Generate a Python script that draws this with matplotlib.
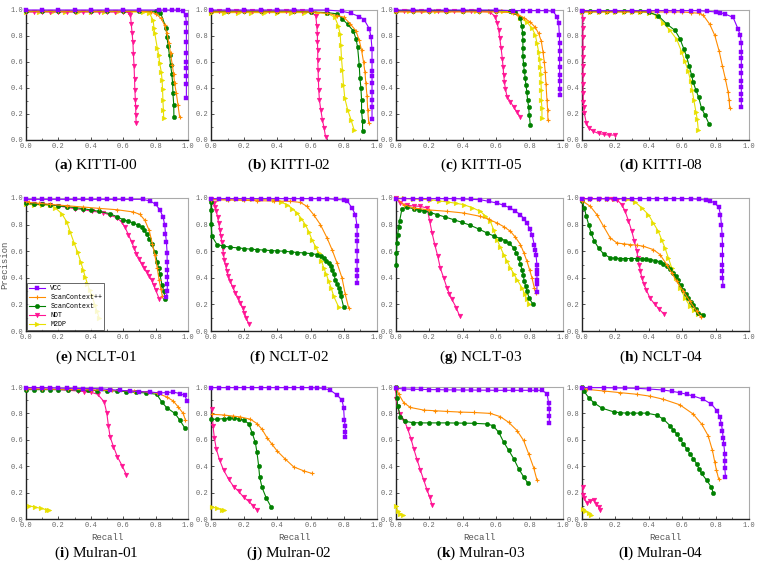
import matplotlib
matplotlib.use("Agg")
from matplotlib import pyplot as plt
from matplotlib.ticker import MultipleLocator

plt.rcParams["mathtext.fontset"] = "custom"
plt.rcParams["mathtext.rm"] = "Liberation Serif"
plt.rcParams["mathtext.bf"] = "Liberation Serif:bold"

methods = ["VCC", "ScanContext++", "ScanContext", "NDT", "M2DP"]
colors = ["#8B00FF", "#FF8C00", "#008000", "#FF1493", "#E8E000"]
markers = ["s", "+", "o", "v", ">"]
msizes = [3.2, 2.6, 3.2, 3.4, 3.4]

# (recall, precision) points

# KITTI-00
k00_vcc = [(0.0, 1.0), (0.1, 1.0), (0.2, 1.0), (0.3, 1.0), (0.4, 1.0), (0.5, 1.0), (0.6, 1.0), (0.7, 1.0),
           (0.82, 1.0), (0.86, 1.0), (0.9, 1.0), (0.94, 1.0), (0.97, 0.99), (0.985, 0.96), (0.99, 0.9),
           (0.99, 0.83), (0.99, 0.75), (0.99, 0.67), (0.99, 0.6), (0.99, 0.55), (0.99, 0.49), (0.99, 0.43), (0.99, 0.32)]
k00_scpp = [(0.0, 0.99), (0.1, 0.99), (0.2, 0.99), (0.3, 0.99), (0.4, 0.99), (0.5, 0.99), (0.6, 0.99), (0.7, 0.99),
            (0.77, 0.985), (0.803, 0.97), (0.834, 0.935), (0.855, 0.885), (0.87, 0.82), (0.882, 0.745), (0.892, 0.667),
            (0.903, 0.577), (0.911, 0.51), (0.917, 0.436), (0.928, 0.36), (0.938, 0.27), (0.948, 0.18)]
k00_sc = [(0.0, 0.99), (0.1, 0.99), (0.2, 0.99), (0.3, 0.99), (0.4, 0.99), (0.5, 0.99), (0.6, 0.99), (0.7, 0.99),
          (0.8, 0.99), (0.83, 0.98), (0.865, 0.86), (0.87, 0.79), (0.878, 0.72), (0.886, 0.65), (0.892, 0.58),
          (0.9, 0.51), (0.905, 0.44), (0.907, 0.36), (0.912, 0.27), (0.913, 0.18)]
k00_ndt = [(0.0, 0.985), (0.05, 0.985), (0.1, 0.985), (0.15, 0.985), (0.2, 0.985), (0.25, 0.985), (0.3, 0.985),
           (0.35, 0.985), (0.4, 0.985), (0.45, 0.985), (0.5, 0.985), (0.55, 0.985), (0.6, 0.985), (0.635, 0.98),
           (0.645, 0.96), (0.65, 0.89), (0.655, 0.82), (0.66, 0.75), (0.663, 0.66), (0.667, 0.57), (0.67, 0.47),
           (0.672, 0.385), (0.675, 0.31), (0.677, 0.25), (0.678, 0.19), (0.68, 0.13)]
k00_m2dp = [(0.0, 0.985), (0.08, 0.985), (0.16, 0.985), (0.24, 0.985), (0.32, 0.985), (0.4, 0.985), (0.48, 0.985),
            (0.56, 0.985), (0.64, 0.985), (0.72, 0.985), (0.76, 0.98), (0.785, 0.92), (0.79, 0.86), (0.795, 0.82),
            (0.81, 0.71), (0.82, 0.65), (0.825, 0.59), (0.835, 0.525), (0.84, 0.46), (0.843, 0.39), (0.845, 0.31),
            (0.848, 0.23), (0.85, 0.17)]

# KITTI-02
k02_vcc = [(0.0, 1.0), (0.1, 1.0), (0.2, 1.0), (0.3, 1.0), (0.4, 1.0), (0.5, 1.0), (0.6, 1.0), (0.7, 1.0),
           (0.79, 0.99), (0.843, 0.975), (0.893, 0.95), (0.923, 0.925), (0.954, 0.855), (0.964, 0.79), (0.97, 0.7),
           (0.97, 0.61), (0.97, 0.53), (0.97, 0.49), (0.97, 0.44), (0.97, 0.37), (0.97, 0.31), (0.97, 0.25), (0.97, 0.16)]
k02_scpp = [(0.0, 0.985), (0.1, 0.985), (0.2, 0.985), (0.3, 0.985), (0.4, 0.985), (0.5, 0.985), (0.6, 0.985),
            (0.7, 0.975), (0.762, 0.957), (0.8, 0.945), (0.839, 0.893), (0.873, 0.84), (0.893, 0.766), (0.907, 0.69),
            (0.919, 0.6), (0.927, 0.525), (0.933, 0.437), (0.94, 0.335), (0.944, 0.234), (0.95, 0.13)]
k02_sc = [(0.0, 0.99), (0.1, 0.99), (0.2, 0.99), (0.3, 0.99), (0.4, 0.99), (0.5, 0.99), (0.6, 0.985), (0.7, 0.98),
          (0.762, 0.97), (0.792, 0.93), (0.823, 0.89), (0.857, 0.84), (0.873, 0.78), (0.883, 0.716), (0.893, 0.576),
          (0.897, 0.48), (0.903, 0.4), (0.907, 0.31), (0.907, 0.22), (0.913, 0.145), (0.913, 0.07)]
k02_ndt = [(0.0, 0.99), (0.05, 0.99), (0.1, 0.99), (0.15, 0.99), (0.2, 0.99), (0.25, 0.99), (0.3, 0.99), (0.35, 0.99),
           (0.4, 0.99), (0.45, 0.99), (0.5, 0.99), (0.55, 0.99), (0.6, 0.985), (0.631, 0.957), (0.637, 0.88),
           (0.641, 0.817), (0.641, 0.754), (0.643, 0.69), (0.643, 0.614), (0.645, 0.538), (0.647, 0.462),
           (0.649, 0.386), (0.653, 0.31), (0.661, 0.234), (0.671, 0.157), (0.681, 0.094), (0.69, 0.025)]
k02_m2dp = [(0.0, 0.98), (0.08, 0.98), (0.16, 0.98), (0.24, 0.98), (0.32, 0.98), (0.4, 0.98), (0.48, 0.98),
            (0.56, 0.98), (0.64, 0.98), (0.7, 0.975), (0.746, 0.944), (0.766, 0.88), (0.778, 0.817), (0.782, 0.728),
            (0.786, 0.627), (0.792, 0.538), (0.798, 0.424), (0.806, 0.322), (0.823, 0.234), (0.843, 0.157),
            (0.863, 0.074)]

# KITTI-05
k05_vcc = [(0.0, 1.0), (0.1, 1.0), (0.2, 1.0), (0.3, 1.0), (0.4, 1.0), (0.5, 1.0), (0.6, 1.0), (0.7, 0.995),
           (0.76, 0.995), (0.8, 0.995), (0.85, 0.995), (0.9, 0.995), (0.94, 0.99), (0.964, 0.95), (0.974, 0.9),
           (0.978, 0.81), (0.98, 0.745), (0.98, 0.685), (0.98, 0.62), (0.98, 0.56), (0.98, 0.5), (0.98, 0.45),
           (0.98, 0.395), (0.984, 0.345)]
k05_scpp = [(0.0, 0.985), (0.1, 0.985), (0.2, 0.985), (0.3, 0.985), (0.4, 0.985), (0.5, 0.985), (0.6, 0.985),
            (0.7, 0.98), (0.73, 0.965), (0.764, 0.942), (0.804, 0.907), (0.834, 0.866), (0.854, 0.82), (0.87, 0.76),
            (0.88, 0.68), (0.888, 0.597), (0.894, 0.52), (0.898, 0.433), (0.904, 0.307), (0.908, 0.232),
            (0.91, 0.156)]
k05_sc = [(0.0, 0.995), (0.1, 0.995), (0.2, 0.995), (0.3, 0.995), (0.4, 0.995), (0.5, 0.995), (0.6, 0.995),
          (0.68, 0.995), (0.715, 0.987), (0.745, 0.937), (0.754, 0.874), (0.758, 0.824), (0.76, 0.773), (0.76, 0.71),
          (0.76, 0.647), (0.764, 0.584), (0.768, 0.534), (0.774, 0.479), (0.778, 0.42), (0.784, 0.37),
          (0.788, 0.307), (0.794, 0.257), (0.798, 0.194), (0.804, 0.118)]
k05_ndt = [(0.0, 0.99), (0.05, 0.99), (0.1, 0.99), (0.15, 0.99), (0.2, 0.99), (0.25, 0.99), (0.3, 0.99), (0.35, 0.99),
           (0.4, 0.99), (0.45, 0.99), (0.5, 0.99), (0.56, 0.985), (0.595, 0.95), (0.605, 0.9), (0.615, 0.85),
           (0.621, 0.786), (0.629, 0.71), (0.637, 0.622), (0.641, 0.56), (0.645, 0.5), (0.649, 0.446),
           (0.655, 0.395), (0.665, 0.333), (0.685, 0.295), (0.705, 0.252), (0.725, 0.212), (0.745, 0.176)]
k05_m2dp = [(0.0, 0.99), (0.08, 0.99), (0.16, 0.99), (0.24, 0.99), (0.32, 0.99), (0.4, 0.99), (0.48, 0.99),
            (0.56, 0.99), (0.64, 0.99), (0.7, 0.985), (0.745, 0.937), (0.784, 0.907), (0.814, 0.86), (0.834, 0.81),
            (0.844, 0.745), (0.854, 0.68), (0.86, 0.62), (0.864, 0.56), (0.868, 0.51), (0.868, 0.446), (0.87, 0.383),
            (0.87, 0.307), (0.874, 0.244), (0.874, 0.169)]

# KITTI-08
k08_vcc = [(0.0, 0.995), (0.1, 0.995), (0.2, 0.995), (0.3, 0.995), (0.4, 0.995), (0.45, 0.995), (0.5, 0.995),
           (0.55, 0.995), (0.6, 0.995), (0.65, 0.995), (0.7, 0.995), (0.75, 0.99), (0.8, 0.985), (0.825, 0.98),
           (0.855, 0.97), (0.905, 0.943), (0.934, 0.855), (0.948, 0.805), (0.954, 0.743), (0.954, 0.68),
           (0.954, 0.63), (0.954, 0.568), (0.954, 0.518), (0.954, 0.455), (0.954, 0.405), (0.954, 0.355),
           (0.954, 0.305), (0.954, 0.25)]
k08_scpp = [(0.0, 0.985), (0.05, 0.985), (0.1, 0.985), (0.15, 0.985), (0.2, 0.985), (0.25, 0.985), (0.3, 0.985),
            (0.35, 0.985), (0.4, 0.985), (0.45, 0.985), (0.5, 0.985), (0.55, 0.985), (0.6, 0.985), (0.65, 0.98),
            (0.7, 0.975), (0.726, 0.96), (0.765, 0.89), (0.795, 0.805), (0.821, 0.685), (0.841, 0.568),
            (0.859, 0.468), (0.875, 0.368), (0.881, 0.305), (0.885, 0.243)]
k08_sc = [(0.0, 0.99), (0.05, 0.99), (0.1, 0.99), (0.15, 0.99), (0.2, 0.99), (0.25, 0.99), (0.3, 0.99), (0.35, 0.99),
          (0.4, 0.985), (0.457, 0.955), (0.507, 0.893), (0.557, 0.843), (0.586, 0.78), (0.61, 0.7), (0.626, 0.643),
          (0.642, 0.568), (0.656, 0.5), (0.666, 0.443), (0.682, 0.385), (0.698, 0.33), (0.716, 0.243),
          (0.736, 0.193), (0.76, 0.125)]
k08_ndt = [(0.002, 0.99), (0.004, 0.93), (0.005, 0.86), (0.005, 0.79), (0.006, 0.71), (0.006, 0.64), (0.006, 0.57),
           (0.006, 0.5), (0.006, 0.43), (0.007, 0.36), (0.008, 0.29), (0.01, 0.25), (0.014, 0.205), (0.026, 0.13),
           (0.04, 0.093), (0.066, 0.068), (0.1, 0.05), (0.13, 0.043), (0.16, 0.038), (0.195, 0.038)]
k08_m2dp = [(0.0, 0.985), (0.05, 0.985), (0.1, 0.985), (0.15, 0.985), (0.2, 0.985), (0.25, 0.985), (0.3, 0.985),
            (0.35, 0.985), (0.4, 0.98), (0.451, 0.955), (0.487, 0.9), (0.527, 0.843), (0.567, 0.775), (0.596, 0.68),
            (0.616, 0.605), (0.636, 0.53), (0.65, 0.455), (0.66, 0.385), (0.67, 0.305), (0.682, 0.218),
            (0.69, 0.16), (0.696, 0.08)]

# NCLT-01
n01_vcc = [(0.0, 0.99), (0.05, 0.99), (0.1, 0.99), (0.15, 0.99), (0.2, 0.99), (0.25, 0.99), (0.3, 0.99), (0.35, 0.99),
           (0.4, 0.99), (0.45, 0.99), (0.5, 0.99), (0.55, 0.99), (0.6, 0.99), (0.65, 0.99), (0.72, 0.99),
           (0.768, 0.977), (0.8, 0.952), (0.826, 0.912), (0.846, 0.857), (0.857, 0.794), (0.861, 0.73),
           (0.867, 0.667), (0.871, 0.586), (0.871, 0.52), (0.873, 0.46), (0.873, 0.406), (0.873, 0.35),
           (0.871, 0.3), (0.867, 0.256)]
n01_scpp = [(0.0, 0.975), (0.016, 0.967), (0.08, 0.96), (0.15, 0.952), (0.25, 0.942), (0.354, 0.932), (0.45, 0.922),
            (0.56, 0.912), (0.662, 0.895), (0.703, 0.877), (0.734, 0.832), (0.76, 0.757), (0.78, 0.657),
            (0.795, 0.569), (0.81, 0.476), (0.822, 0.38), (0.832, 0.318), (0.842, 0.26)]
n01_sc = [(0.0, 0.96), (0.05, 0.955), (0.1, 0.952), (0.15, 0.95), (0.2, 0.94), (0.25, 0.935), (0.3, 0.928),
          (0.354, 0.92), (0.4, 0.91), (0.45, 0.9), (0.518, 0.882), (0.56, 0.86), (0.6, 0.837), (0.632, 0.825),
          (0.662, 0.812), (0.69, 0.797), (0.713, 0.782), (0.73, 0.757), (0.744, 0.732), (0.76, 0.695),
          (0.775, 0.657), (0.795, 0.594), (0.81, 0.519), (0.818, 0.475), (0.826, 0.431), (0.84, 0.343),
          (0.852, 0.298), (0.857, 0.243)]
n01_ndt = [(0.0, 0.96), (0.05, 0.957), (0.1, 0.955), (0.15, 0.95), (0.2, 0.94), (0.25, 0.93), (0.3, 0.92),
           (0.354, 0.912), (0.41, 0.9), (0.477, 0.89), (0.52, 0.87), (0.56, 0.852), (0.59, 0.82), (0.61, 0.782),
           (0.632, 0.725), (0.652, 0.67), (0.667, 0.625), (0.682, 0.581), (0.698, 0.543), (0.713, 0.506),
           (0.728, 0.475), (0.744, 0.444), (0.76, 0.412), (0.775, 0.381), (0.788, 0.345), (0.801, 0.306),
           (0.822, 0.243)]
n01_m2dp = [(0.0, 0.952), (0.05, 0.95), (0.1, 0.948), (0.15, 0.945), (0.18, 0.927), (0.221, 0.882), (0.252, 0.82),
            (0.273, 0.744), (0.297, 0.662), (0.318, 0.594), (0.338, 0.519), (0.354, 0.456), (0.366, 0.405),
            (0.379, 0.356), (0.392, 0.31), (0.406, 0.268), (0.426, 0.193), (0.438, 0.15), (0.451, 0.1)]

# NCLT-02
n02_vcc = [(0.0, 0.995), (0.05, 0.995), (0.1, 0.995), (0.15, 0.995), (0.2, 0.995), (0.25, 0.995), (0.3, 0.995),
           (0.35, 0.995), (0.4, 0.995), (0.45, 0.995), (0.5, 0.995), (0.55, 0.995), (0.6, 0.995), (0.65, 0.995),
           (0.7, 0.995), (0.75, 0.99), (0.8, 0.985), (0.82, 0.98), (0.849, 0.925), (0.87, 0.875), (0.88, 0.787),
           (0.88, 0.725), (0.88, 0.675), (0.88, 0.6), (0.88, 0.525), (0.88, 0.462), (0.88, 0.412), (0.88, 0.362)]
n02_scpp = [(0.0, 0.987), (0.1, 0.985), (0.2, 0.982), (0.277, 0.98), (0.38, 0.977), (0.478, 0.975), (0.538, 0.967),
            (0.578, 0.937), (0.618, 0.875), (0.659, 0.8), (0.699, 0.7), (0.729, 0.612), (0.759, 0.512),
            (0.789, 0.4), (0.809, 0.275), (0.829, 0.175)]
n02_sc = [(0.0, 0.97), (0.0, 0.912), (0.0, 0.805), (0.006, 0.712), (0.036, 0.65), (0.07, 0.64), (0.116, 0.63),
          (0.16, 0.625), (0.2, 0.62), (0.24, 0.615), (0.277, 0.612), (0.32, 0.608), (0.36, 0.605), (0.4, 0.602),
          (0.438, 0.6), (0.48, 0.595), (0.52, 0.59), (0.558, 0.587), (0.6, 0.582), (0.639, 0.575), (0.66, 0.563),
          (0.679, 0.55), (0.695, 0.53), (0.709, 0.512), (0.72, 0.487), (0.729, 0.462), (0.74, 0.425),
          (0.749, 0.387), (0.76, 0.355), (0.769, 0.325), (0.776, 0.295), (0.783, 0.262), (0.799, 0.18)]
n02_ndt = [(0.0, 0.99), (0.016, 0.962), (0.025, 0.93), (0.032, 0.9), (0.04, 0.855), (0.046, 0.812), (0.053, 0.762),
           (0.06, 0.712), (0.065, 0.668), (0.07, 0.625), (0.075, 0.58), (0.08, 0.537), (0.088, 0.493),
           (0.096, 0.45), (0.105, 0.41), (0.116, 0.375), (0.13, 0.33), (0.147, 0.287), (0.162, 0.25),
           (0.177, 0.212), (0.19, 0.175), (0.201, 0.137), (0.213, 0.095), (0.227, 0.055)]
n02_m2dp = [(0.0, 0.99), (0.05, 0.99), (0.1, 0.99), (0.15, 0.99), (0.2, 0.99), (0.25, 0.99), (0.3, 0.99),
            (0.378, 0.987), (0.42, 0.97), (0.458, 0.95), (0.49, 0.92), (0.518, 0.887), (0.545, 0.845),
            (0.568, 0.8), (0.59, 0.745), (0.608, 0.687), (0.63, 0.635), (0.649, 0.587), (0.665, 0.53),
            (0.679, 0.475), (0.695, 0.425), (0.709, 0.375), (0.725, 0.32), (0.739, 0.262), (0.769, 0.18)]

# NCLT-03
n03_vcc = [(0.0, 0.995), (0.05, 0.995), (0.1, 0.995), (0.15, 0.995), (0.2, 0.995), (0.25, 0.995), (0.3, 0.995),
           (0.35, 0.995), (0.4, 0.993), (0.45, 0.99), (0.505, 0.987), (0.555, 0.975), (0.605, 0.962),
           (0.645, 0.945), (0.685, 0.925), (0.715, 0.9), (0.745, 0.875), (0.765, 0.845), (0.784, 0.812),
           (0.8, 0.77), (0.814, 0.725), (0.828, 0.65), (0.834, 0.612), (0.838, 0.575), (0.844, 0.5),
           (0.844, 0.462), (0.844, 0.425), (0.844, 0.387), (0.844, 0.35), (0.844, 0.295)]
n03_scpp = [(0.0, 1.0), (0.046, 0.95), (0.106, 0.925), (0.2, 0.91), (0.305, 0.9), (0.405, 0.887), (0.505, 0.862),
            (0.555, 0.84), (0.605, 0.812), (0.645, 0.785), (0.685, 0.75), (0.715, 0.705), (0.745, 0.65),
            (0.765, 0.59), (0.784, 0.525), (0.8, 0.46), (0.814, 0.4), (0.828, 0.325), (0.838, 0.282)]
n03_sc = [(0.0, 0.5), (0.002, 0.587), (0.006, 0.662), (0.01, 0.725), (0.016, 0.78), (0.022, 0.83), (0.036, 0.92),
          (0.066, 0.93), (0.106, 0.92), (0.136, 0.912), (0.166, 0.905), (0.206, 0.89), (0.246, 0.875),
          (0.295, 0.857), (0.345, 0.837), (0.395, 0.817), (0.445, 0.795), (0.495, 0.767), (0.545, 0.737),
          (0.585, 0.715), (0.625, 0.695), (0.655, 0.68), (0.675, 0.662), (0.705, 0.625), (0.72, 0.59),
          (0.734, 0.55), (0.745, 0.505), (0.754, 0.462), (0.762, 0.42), (0.768, 0.375), (0.776, 0.337),
          (0.784, 0.3), (0.798, 0.245), (0.818, 0.205)]
n03_ndt = [(0.0, 1.0), (0.026, 0.962), (0.066, 0.945), (0.106, 0.94), (0.146, 0.937), (0.186, 0.925),
           (0.202, 0.825), (0.216, 0.737), (0.232, 0.65), (0.25, 0.562), (0.265, 0.475), (0.285, 0.4),
           (0.305, 0.325), (0.32, 0.28), (0.335, 0.237), (0.361, 0.175), (0.381, 0.112)]
n03_m2dp = [(0.0, 1.0), (0.05, 0.997), (0.1, 0.993), (0.15, 0.99), (0.206, 0.987), (0.26, 0.978), (0.31, 0.97),
            (0.36, 0.96), (0.405, 0.95), (0.455, 0.928), (0.505, 0.9), (0.535, 0.865), (0.565, 0.825),
            (0.585, 0.76), (0.605, 0.687), (0.625, 0.63), (0.645, 0.575), (0.665, 0.525), (0.685, 0.475),
            (0.705, 0.43), (0.725, 0.387), (0.754, 0.325), (0.77, 0.28), (0.784, 0.237), (0.798, 0.2)]

# NCLT-04
n04_vcc = [(0.0, 0.995), (0.05, 0.995), (0.1, 0.995), (0.15, 0.995), (0.2, 0.995), (0.25, 0.995), (0.3, 0.995),
           (0.35, 0.995), (0.4, 0.995), (0.45, 0.995), (0.5, 0.995), (0.55, 0.995), (0.6, 0.995), (0.65, 0.995),
           (0.7, 0.99), (0.74, 0.985), (0.765, 0.98), (0.795, 0.962), (0.819, 0.93), (0.829, 0.875), (0.835, 0.8),
           (0.839, 0.725), (0.841, 0.65), (0.841, 0.575), (0.841, 0.5), (0.841, 0.45), (0.841, 0.4),
           (0.845, 0.337)]
n04_scpp = [(0.0, 0.98), (0.05, 0.937), (0.089, 0.875), (0.129, 0.787), (0.169, 0.7), (0.209, 0.662), (0.25, 0.655),
            (0.288, 0.65), (0.33, 0.645), (0.368, 0.637), (0.427, 0.612), (0.467, 0.575), (0.507, 0.5),
            (0.537, 0.437), (0.567, 0.375), (0.606, 0.3), (0.646, 0.225), (0.686, 0.15), (0.71, 0.105)]
n04_sc = [(0.0, 0.98), (0.014, 0.925), (0.026, 0.862), (0.04, 0.8), (0.054, 0.737), (0.074, 0.675), (0.099, 0.625),
          (0.129, 0.58), (0.169, 0.55), (0.199, 0.547), (0.229, 0.545), (0.26, 0.545), (0.295, 0.545),
          (0.328, 0.545), (0.36, 0.543), (0.385, 0.54), (0.408, 0.537), (0.44, 0.53), (0.467, 0.52),
          (0.487, 0.505), (0.507, 0.487), (0.527, 0.465), (0.547, 0.437), (0.562, 0.41), (0.577, 0.38),
          (0.59, 0.345), (0.606, 0.312), (0.62, 0.28), (0.636, 0.25), (0.65, 0.22), (0.666, 0.195),
          (0.68, 0.165), (0.696, 0.137), (0.722, 0.12)]
n04_ndt = [(0.0, 0.995), (0.05, 0.995), (0.1, 0.995), (0.15, 0.995), (0.18, 0.993), (0.209, 0.987), (0.239, 0.95),
           (0.258, 0.9), (0.278, 0.83), (0.298, 0.75), (0.314, 0.675), (0.328, 0.6), (0.335, 0.55), (0.342, 0.5),
           (0.35, 0.45), (0.358, 0.4), (0.37, 0.355), (0.384, 0.312), (0.408, 0.245), (0.437, 0.2),
           (0.463, 0.162), (0.493, 0.125)]
n04_m2dp = [(0.0, 0.995), (0.05, 0.995), (0.1, 0.995), (0.15, 0.995), (0.2, 0.995), (0.268, 0.99), (0.318, 0.97),
            (0.358, 0.925), (0.398, 0.875), (0.427, 0.812), (0.457, 0.75), (0.477, 0.687), (0.497, 0.625),
            (0.517, 0.55), (0.537, 0.475), (0.563, 0.4), (0.586, 0.325), (0.616, 0.25), (0.646, 0.187),
            (0.67, 0.155), (0.696, 0.13), (0.726, 0.12)]

# Mulran-01
m01_vcc = [(0.0, 0.995), (0.05, 0.995), (0.1, 0.995), (0.15, 0.993), (0.2, 0.992), (0.25, 0.99), (0.3, 0.99),
           (0.35, 0.988), (0.4, 0.988), (0.462, 0.987), (0.52, 0.98), (0.58, 0.975), (0.64, 0.97), (0.7, 0.965),
           (0.767, 0.962), (0.828, 0.955), (0.87, 0.958), (0.909, 0.962), (0.949, 0.95), (0.98, 0.937),
           (0.994, 0.894)]
m01_scpp = [(0.0, 0.985), (0.1, 0.984), (0.26, 0.982), (0.4, 0.978), (0.53, 0.974), (0.665, 0.97), (0.75, 0.962),
            (0.807, 0.955), (0.868, 0.925), (0.909, 0.894), (0.939, 0.85), (0.97, 0.8), (0.984, 0.75)]
m01_sc = [(0.0, 0.98), (0.05, 0.98), (0.1, 0.98), (0.15, 0.98), (0.2, 0.98), (0.26, 0.98), (0.32, 0.977),
          (0.38, 0.975), (0.44, 0.973), (0.5, 0.972), (0.564, 0.97), (0.62, 0.965), (0.68, 0.96), (0.74, 0.955),
          (0.807, 0.945), (0.838, 0.887), (0.868, 0.844), (0.919, 0.8), (0.949, 0.75), (0.98, 0.69)]
m01_ndt = [(0.0, 0.985), (0.05, 0.985), (0.1, 0.984), (0.15, 0.982), (0.2, 0.98), (0.26, 0.975), (0.32, 0.97),
           (0.36, 0.965), (0.402, 0.96), (0.442, 0.945), (0.483, 0.887), (0.499, 0.8), (0.509, 0.704),
           (0.519, 0.623), (0.54, 0.548), (0.564, 0.472), (0.594, 0.402), (0.62, 0.334)]
m01_m2dp = [(0.016, 0.1), (0.057, 0.09), (0.093, 0.08), (0.128, 0.07), (0.142, 0.068)]

# Mulran-02
m02_vcc = [(0.0, 0.995), (0.05, 0.995), (0.1, 0.995), (0.15, 0.995), (0.2, 0.995), (0.25, 0.995), (0.3, 0.995),
           (0.35, 0.995), (0.4, 0.995), (0.45, 0.995), (0.5, 0.995), (0.55, 0.995), (0.6, 0.995), (0.64, 0.993),
           (0.679, 0.99), (0.719, 0.975), (0.759, 0.94), (0.789, 0.9), (0.799, 0.844), (0.803, 0.748),
           (0.809, 0.705), (0.809, 0.662), (0.809, 0.625)]
m02_scpp = [(0.006, 0.793), (0.076, 0.788), (0.13, 0.78), (0.177, 0.773), (0.237, 0.756), (0.277, 0.723),
            (0.307, 0.68), (0.337, 0.617), (0.367, 0.567), (0.398, 0.516), (0.448, 0.453), (0.498, 0.395),
            (0.558, 0.365), (0.608, 0.345)]
m02_sc = [(0.0, 0.755), (0.036, 0.756), (0.076, 0.76), (0.106, 0.762), (0.137, 0.763), (0.17, 0.758),
          (0.197, 0.748), (0.227, 0.723), (0.247, 0.655), (0.267, 0.58), (0.277, 0.504), (0.287, 0.403),
          (0.293, 0.32), (0.307, 0.24), (0.333, 0.159), (0.363, 0.088)]
m02_ndt = [(0.006, 0.83), (0.012, 0.705), (0.02, 0.617), (0.032, 0.529), (0.052, 0.446), (0.076, 0.37),
           (0.106, 0.302), (0.137, 0.244), (0.167, 0.209), (0.197, 0.164), (0.227, 0.134), (0.253, 0.101),
           (0.277, 0.068)]
m02_m2dp = [(0.006, 0.093), (0.036, 0.08), (0.066, 0.07), (0.076, 0.068)]

# Mulran-03
m03_vcc = [(0.0, 0.99), (0.05, 0.985), (0.1, 0.983), (0.15, 0.982), (0.2, 0.98), (0.25, 0.98), (0.3, 0.978),
           (0.35, 0.978), (0.4, 0.977), (0.45, 0.977), (0.5, 0.976), (0.55, 0.976), (0.6, 0.975), (0.65, 0.975),
           (0.7, 0.975), (0.75, 0.975), (0.8, 0.975), (0.84, 0.975), (0.874, 0.975), (0.904, 0.95),
           (0.914, 0.882), (0.918, 0.832), (0.918, 0.782), (0.918, 0.728)]
m03_scpp = [(0.0, 1.0), (0.016, 0.945), (0.046, 0.882), (0.086, 0.845), (0.166, 0.825), (0.235, 0.82),
            (0.305, 0.815), (0.385, 0.81), (0.465, 0.807), (0.565, 0.8), (0.625, 0.775), (0.675, 0.732),
            (0.725, 0.67), (0.764, 0.595), (0.794, 0.495), (0.824, 0.39), (0.844, 0.295)]
m03_sc = [(0.0, 1.0), (0.006, 0.92), (0.01, 0.857), (0.026, 0.775), (0.056, 0.74), (0.1, 0.73), (0.146, 0.728),
          (0.2, 0.728), (0.25, 0.728), (0.305, 0.728), (0.36, 0.727), (0.41, 0.726), (0.465, 0.725),
          (0.545, 0.72), (0.581, 0.707), (0.615, 0.657), (0.645, 0.582), (0.675, 0.52), (0.705, 0.457),
          (0.734, 0.382), (0.764, 0.32), (0.79, 0.27)]
m03_ndt = [(0.0, 0.97), (0.002, 0.907), (0.01, 0.845), (0.026, 0.795), (0.05, 0.745), (0.07, 0.682), (0.09, 0.607),
           (0.106, 0.532), (0.126, 0.45), (0.146, 0.37), (0.166, 0.295), (0.186, 0.22), (0.202, 0.165),
           (0.216, 0.107)]
m03_m2dp = [(0.0, 0.1), (0.01, 0.057), (0.026, 0.04), (0.04, 0.032)]

# Mulran-04
m04_vcc = [(0.0, 0.995), (0.05, 0.995), (0.129, 0.995), (0.2, 0.993), (0.26, 0.992), (0.328, 0.99), (0.4, 0.985),
           (0.487, 0.977), (0.54, 0.967), (0.586, 0.957), (0.626, 0.945), (0.666, 0.932), (0.726, 0.907),
           (0.775, 0.87), (0.809, 0.82), (0.825, 0.77), (0.835, 0.72), (0.841, 0.665), (0.845, 0.617),
           (0.849, 0.57), (0.855, 0.49), (0.855, 0.44), (0.855, 0.39), (0.859, 0.32)]
m04_scpp = [(0.0, 1.0), (0.03, 0.982), (0.129, 0.97), (0.23, 0.957), (0.328, 0.945), (0.41, 0.93), (0.487, 0.907),
            (0.586, 0.865), (0.666, 0.795), (0.716, 0.72), (0.755, 0.632), (0.781, 0.52), (0.795, 0.432),
            (0.805, 0.37), (0.819, 0.3)]
m04_sc = [(0.0, 1.0), (0.01, 0.97), (0.04, 0.92), (0.07, 0.882), (0.119, 0.84), (0.189, 0.812), (0.228, 0.805),
          (0.268, 0.802), (0.308, 0.802), (0.348, 0.802), (0.388, 0.802), (0.447, 0.787), (0.487, 0.757),
          (0.527, 0.707), (0.547, 0.675), (0.567, 0.645), (0.586, 0.607), (0.606, 0.57), (0.626, 0.532),
          (0.646, 0.495), (0.666, 0.457), (0.686, 0.42), (0.7, 0.38), (0.716, 0.345), (0.746, 0.295),
          (0.775, 0.24), (0.785, 0.2)]
m04_ndt = [(0.004, 0.245), (0.006, 0.18), (0.014, 0.157), (0.03, 0.12), (0.05, 0.137), (0.07, 0.145),
           (0.085, 0.117), (0.099, 0.092), (0.105, 0.065)]
m04_m2dp = [(0.006, 0.075), (0.02, 0.062), (0.04, 0.045), (0.054, 0.032)]

panels = [
    ("a", "KITTI-00", [k00_vcc, k00_scpp, k00_sc, k00_ndt, k00_m2dp]),
    ("b", "KITTI-02", [k02_vcc, k02_scpp, k02_sc, k02_ndt, k02_m2dp]),
    ("c", "KITTI-05", [k05_vcc, k05_scpp, k05_sc, k05_ndt, k05_m2dp]),
    ("d", "KITTI-08", [k08_vcc, k08_scpp, k08_sc, k08_ndt, k08_m2dp]),
    ("e", "NCLT-01", [n01_vcc, n01_scpp, n01_sc, n01_ndt, n01_m2dp]),
    ("f", "NCLT-02", [n02_vcc, n02_scpp, n02_sc, n02_ndt, n02_m2dp]),
    ("g", "NCLT-03", [n03_vcc, n03_scpp, n03_sc, n03_ndt, n03_m2dp]),
    ("h", "NCLT-04", [n04_vcc, n04_scpp, n04_sc, n04_ndt, n04_m2dp]),
    ("i", "Mulran-01", [m01_vcc, m01_scpp, m01_sc, m01_ndt, m01_m2dp]),
    ("j", "Mulran-02", [m02_vcc, m02_scpp, m02_sc, m02_ndt, m02_m2dp]),
    ("k", "Mulran-03", [m03_vcc, m03_scpp, m03_sc, m03_ndt, m03_m2dp]),
    ("l", "Mulran-04", [m04_vcc, m04_scpp, m04_sc, m04_ndt, m04_m2dp]),
]

W, H = 757, 565
fig = plt.figure(figsize=(W / 100, H / 100), dpi=100)

col_left = [26, 211, 396, 582]
col_width = [162, 166, 167, 167]
row_top = [10, 198, 387]
row_height = [130, 133, 132]
cap_x = [96, 289, 481, 661]
cap_y = [165, 357, 553]

mono = "Liberation Mono"

for idx, (letter, name, curves) in enumerate(panels):
    r, c = divmod(idx, 4)
    ax = fig.add_axes([col_left[c] / W, 1 - (row_top[r] + row_height[r]) / H,
                       col_width[c] / W, row_height[r] / H])
    # draw the lower-ranked methods first so VCC ends up on top
    for k in [4, 3, 2, 1, 0]:
        pts = curves[k]
        xs = [p[0] for p in pts]
        ys = [p[1] for p in pts]
        ax.plot(xs, ys, color=colors[k], marker=markers[k], ms=msizes[k], lw=0.8,
                mew=0.8 if markers[k] == "+" else 0.3, label=methods[k], clip_on=False, zorder=3 + (4 - k))
    ax.set_xlim(0, 1)
    ax.set_ylim(0, 1)
    ax.xaxis.set_major_locator(MultipleLocator(0.2))
    ax.yaxis.set_major_locator(MultipleLocator(0.2))
    ax.xaxis.set_minor_locator(MultipleLocator(0.1))
    ax.yaxis.set_minor_locator(MultipleLocator(0.1))
    ax.tick_params(which="both", direction="in", labelsize=5, colors="#333333", labelcolor="#666666", pad=2)
    ax.tick_params(which="major", length=2.5, width=0.6)
    ax.tick_params(which="minor", length=1.5, width=0.5)
    ax.tick_params(top=False, right=False, which="both")
    for lab in ax.get_xticklabels() + ax.get_yticklabels():
        lab.set_fontfamily(mono)
    ax.xaxis.set_major_formatter(plt.FuncFormatter(lambda v, p: f"{v:.1f}"))
    ax.yaxis.set_major_formatter(plt.FuncFormatter(lambda v, p: f"{v:.1f}"))
    for s in ["left", "bottom"]:
        ax.spines[s].set_color("#222222")
        ax.spines[s].set_linewidth(1.0)
    for s in ["top", "right"]:
        ax.spines[s].set_color("#aaaaaa")
        ax.spines[s].set_linewidth(0.8)

    if idx == 4:
        ax.set_ylabel("Precision", fontfamily=mono, fontsize=6.5, color="#555555", labelpad=1)
        handles, labels = ax.get_legend_handles_labels()
        leg = ax.legend(handles[::-1], labels[::-1], loc="lower left", prop={"family": mono, "size": 4.8},
                        frameon=True, fancybox=False, edgecolor="#222222", borderpad=0.3, labelspacing=0.3,
                        handlelength=2.4, handletextpad=0.8, borderaxespad=0.15)
        leg.get_frame().set_linewidth(0.6)
    if r == 2:
        ax.set_xlabel("Recall", fontfamily=mono, fontsize=6.5, color="#555555", labelpad=3)

    fig.text(cap_x[c] / W, 1 - cap_y[r] / H, rf"($\mathbf{{{letter}}}$) {name}",
             fontfamily="Liberation Serif", fontsize=11, ha="center", va="center")

fig.savefig("out.png", dpi=100)
